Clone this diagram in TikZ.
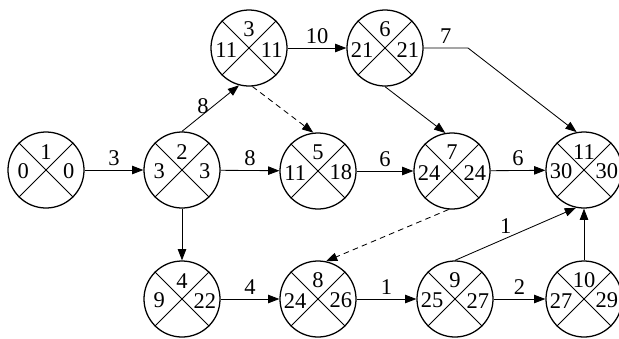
\documentclass[tikz,border=0pt]{standalone}
\usepackage{fontspec}
\setmainfont{Liberation Serif}
\usetikzlibrary{arrows.meta}

\tikzset{
    event/.style={circle, draw, line width=0.9pt, minimum size=1.9cm, inner sep=0pt},
    cross/.style={line width=0.7pt},
    num/.style={inner sep=0pt, font=\fontsize{16}{17}\selectfont},
    act/.style={-{Triangle[length=2.8mm, width=2.1mm]}, line width=0.6pt},
    dummy/.style={act, dashed, dash pattern=on 4pt off 3pt},
    lab/.style={font=\fontsize{16}{17}\selectfont, inner sep=3pt}
}

% event circle: name, position, number, earliest, latest
\newcommand{\evnode}[5]{%
    \node[event] (#1) at (#2) {};
    \draw[cross] (#1.45) -- (#1.225) (#1.135) -- (#1.315);
    \node[num] at ([yshift=0.46cm]#1.center) {#3};
    \node[num] at ([xshift=-0.57cm, yshift=-0.04cm]#1.center) {#4};
    \node[num] at ([xshift=0.57cm, yshift=-0.04cm]#1.center) {#5};
}

\begin{document}
\begin{tikzpicture}[x=0.025cm, y=-0.025cm]

    \useasboundingbox (0,0) rectangle (619,338);

    % events
    \evnode{n1}{46,170}{1}{0}{0}
    \evnode{n2}{182,170}{2}{3}{3}
    \evnode{n3}{249,48}{3}{11}{11}
    \evnode{n4}{182,299}{4}{9}{22}
    \evnode{n5}{318,171}{5}{11}{18}
    \evnode{n6}{385,48}{6}{21}{21}
    \evnode{n7}{452,171}{7}{24}{24}
    \evnode{n8}{318,299}{8}{24}{26}
    \evnode{n9}{455,299}{9}{25}{27}
    \evnode{n10}{584,299}{10}{27}{29}
    \evnode{n11}{584,170}{11}{30}{30}

    \coordinate (bend) at (468,48);

    % activities
    \draw[act] (n1) -- node[lab, above] {3} (n2);
    \draw[act] (n2.north) -- node[lab, left, pos=0.55] {8} (n3.255);
    \draw[act] (n2) -- node[lab, above] {8} (n5);
    \draw[act] (n2) -- (n4);
    \draw[act] (n3) -- node[lab, above] {10} (n6);
    \draw[act] (n5) -- node[lab, above] {6} (n7);
    \draw[act] (n6.south) -- (n7.100);
    \draw[act] (n6.east) -- node[lab, above] {7} (bend) -- (n11.101);
    \draw[act] (n7) -- node[lab, above] {6} (n11);
    \draw[act] (n4) -- node[lab, above] {4} (n8);
    \draw[act] (n8) -- node[lab, above] {1} (n9);
    \draw[act] (n9) -- node[lab, above] {2} (n10);
    \draw[act] (n9.north) -- node[lab, above, pos=0.42] {1} (n11.258);
    \draw[act] (n10) -- (n11);

    % dummy activities
    \draw[dummy] (n3.275) -- (n5.97);
    \draw[dummy] (n7.265) -- (n8.78);

\end{tikzpicture}
\end{document}
